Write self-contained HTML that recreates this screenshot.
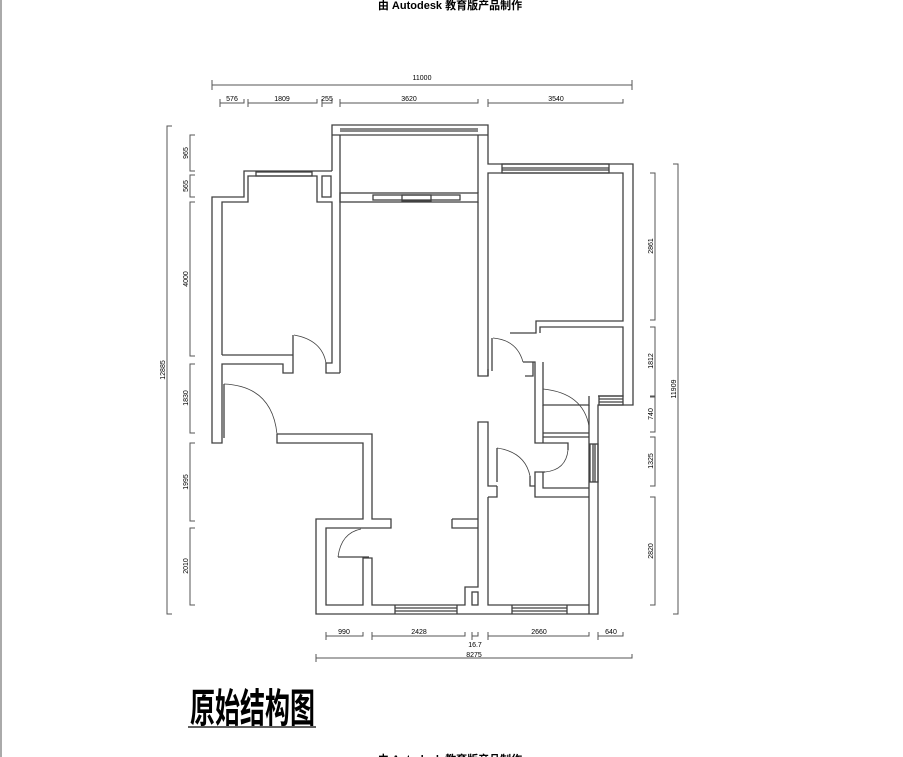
<!DOCTYPE html>
<html><head><meta charset="utf-8"><style>
body{margin:0;background:#fff;width:903px;height:757px;overflow:hidden}
svg{display:block}
text{font-family:"Liberation Sans","Noto Sans CJK SC",sans-serif;fill:#000}
</style></head><body>
<svg width="903" height="757" viewBox="0 0 903 757" xmlns="http://www.w3.org/2000/svg">
<line x1="1" y1="0" x2="1" y2="757" stroke="#555" stroke-width="1"/>
<text x="450" y="9" font-size="11" font-weight="bold" text-anchor="middle">由 Autodesk 教育版产品制作</text>
<text x="450" y="763" font-size="11" font-weight="bold" text-anchor="middle">由 Autodesk 教育版产品制作</text>
<g fill="none" stroke="#404040" stroke-width="1.3">
<polyline points="332,171 332,125 488,125 488,164 633,164 633,405 598,405 598,614 316,614 316,519 363,519 363,443 277,443 277,434"/>
<line x1="332" y1="135" x2="488" y2="135"/>
<line x1="340" y1="129" x2="478" y2="129"/><line x1="340" y1="131" x2="478" y2="131"/>
<line x1="340" y1="135" x2="340" y2="373"/><line x1="478" y1="135" x2="478" y2="193"/>
<rect x="340" y="193" width="138" height="9"/>
<rect x="373" y="195" width="87" height="5"/><rect x="402" y="195" width="29" height="6"/>
<polyline points="332,171 244,171 244,197 212,197 212,443 222,443 222,364 283,364 283,373 293,373 293,335"/>
<polyline points="222,355 222,202 248,202 248,176 317,176 317,202 332,202 332,363 326,363 326,373 340,373"/>
<line x1="222" y1="355" x2="293" y2="355"/>
<rect x="256" y="172" width="56" height="4"/><rect x="322" y="176" width="9" height="21"/>
<line x1="224" y1="384" x2="224" y2="438"/>
<polyline points="277,434 372,434 372,519 391,519 391,528 326,528 326,605 363,605 363,558 372,558 372,605 465,605 465,587 478,587 478,422 488,422 488,486 497,486"/>
<line x1="338" y1="557" x2="369" y2="557"/>
<rect x="472" y="592" width="6" height="13"/>
<line x1="395" y1="605" x2="395" y2="614"/><line x1="457" y1="605" x2="457" y2="614"/>
<line x1="395" y1="608" x2="457" y2="608"/><line x1="395" y1="611" x2="457" y2="611"/>
<polyline points="452,519 478,519"/><polyline points="452,519 452,528 478,528"/>
<polyline points="478,202 478,376 488,376 488,173 623,173 623,321 536,321 536,333 510,333"/>
<rect x="502" y="164" width="107" height="9"/><line x1="502" y1="168" x2="609" y2="168"/><line x1="502" y1="170" x2="609" y2="170"/>
<line x1="488" y1="376" x2="488" y2="369"/><line x1="492" y1="338" x2="492" y2="371"/>
<polyline points="540,333 540,327 623,327 623,396 598,396"/>
<rect x="599" y="396" width="24" height="9"/><line x1="599" y1="399" x2="623" y2="399"/><line x1="599" y1="402" x2="623" y2="402"/>
<polyline points="523,362 535,362 535,443 539,443"/>
<polyline points="533,362 533,376 525,376"/>
<polyline points="543,362 543,405 589,405 589,396"/>
<line x1="543" y1="405" x2="543" y2="443"/>
<line x1="543" y1="433" x2="589" y2="433"/><line x1="543" y1="437" x2="589" y2="437"/>
<line x1="589" y1="405" x2="589" y2="614"/>
<polyline points="539,443 568,443 568,450"/>
<rect x="590" y="444" width="8" height="38"/><line x1="593" y1="444" x2="593" y2="482"/><line x1="595" y1="444" x2="595" y2="482"/>
<polyline points="545,472 535,472 535,497 589,497"/>
<polyline points="543,472 543,488 589,488"/>
<polyline points="530,476 530,486 535,486"/>
<line x1="497" y1="448" x2="497" y2="482"/>
<polyline points="497,486 497,497 488,497"/>
<polyline points="488,497 488,605 589,605"/>
<line x1="512" y1="605" x2="512" y2="614"/><line x1="567" y1="605" x2="567" y2="614"/>
<line x1="512" y1="608" x2="567" y2="608"/><line x1="512" y1="611" x2="567" y2="611"/>
</g>
<g fill="none" stroke="#404040" stroke-width="0.8">
<path d="M294,335 Q322,340 326,363"/>
<path d="M224,384 Q272,386 277,434"/>
<path d="M338,557 Q341,533 361,529"/>
<path d="M493,338 Q517,340 523,362"/>
<path d="M543,389 Q583,393 589,426"/>
<path d="M568,450 Q566,470 545,472"/>
<path d="M497,448 Q525,452 530,476"/>
</g>
<g stroke="#555" stroke-width="1" fill="none">
<path d="M212,80V90M212,85H632M632,80V90"/>
<path d="M220,99V107M220,103H244V99M248,99V107M248,103H317V99M322,99V107M322,103H332V99M340,99V107M340,103H478V99M488,99V107M488,103H623V99"/>
<path d="M172,126H167V614H172"/>
<path d="M195,135H190V171H195M195,175H190V197H195M195,202H190V356H195M195,364H190V433H195M195,443H190V521H195M195,528H190V605H195"/>
<path d="M673,164H678V614H673"/>
<path d="M650,173H655V320H650M650,327H655V396H650M650,397H655V432H650M650,437H655V486H650M650,497H655V605H650"/>
<path d="M326,632V640M326,636H363V632M372,632V640M372,636H465V632M472,632V640M472,636H478V632M488,632V640M488,636H589V632M598,632V640M598,636H623V632"/>
<path d="M316,654V662M316,658H632V654"/>
</g>
<g font-size="7">
<text x="422" y="80" text-anchor="middle">11000</text>
<text x="232" y="101" text-anchor="middle">576</text><text x="282" y="101" text-anchor="middle">1809</text>
<text x="327" y="101" text-anchor="middle">255</text><text x="409" y="101" text-anchor="middle">3620</text>
<text x="556" y="101" text-anchor="middle">3540</text>
<text x="344" y="634" text-anchor="middle">990</text><text x="419" y="634" text-anchor="middle">2428</text>
<text x="539" y="634" text-anchor="middle">2660</text><text x="611" y="634" text-anchor="middle">640</text>
<text x="475" y="647" text-anchor="middle">16.7</text><text x="474" y="657" text-anchor="middle">8275</text>
<text transform="translate(165,370) rotate(-90)" text-anchor="middle">12885</text>
<text transform="translate(188,153) rotate(-90)" text-anchor="middle">965</text>
<text transform="translate(188,186) rotate(-90)" text-anchor="middle">565</text>
<text transform="translate(188,279) rotate(-90)" text-anchor="middle">4000</text>
<text transform="translate(188,398) rotate(-90)" text-anchor="middle">1830</text>
<text transform="translate(188,482) rotate(-90)" text-anchor="middle">1995</text>
<text transform="translate(188,566) rotate(-90)" text-anchor="middle">2010</text>
<text transform="translate(676,389) rotate(-90)" text-anchor="middle">11909</text>
<text transform="translate(653,246) rotate(-90)" text-anchor="middle">2861</text>
<text transform="translate(653,361) rotate(-90)" text-anchor="middle">1812</text>
<text transform="translate(653,414) rotate(-90)" text-anchor="middle">740</text>
<text transform="translate(653,461) rotate(-90)" text-anchor="middle">1325</text>
<text transform="translate(653,551) rotate(-90)" text-anchor="middle">2820</text>
</g>
<text transform="translate(190,722) scale(1,1.6)" font-size="25" font-family="'Noto Serif CJK SC','Liberation Serif',serif" font-weight="bold">原始结构图</text>
<line x1="188" y1="727" x2="316" y2="727" stroke="#000" stroke-width="1.2"/>
</svg>
</body></html>
